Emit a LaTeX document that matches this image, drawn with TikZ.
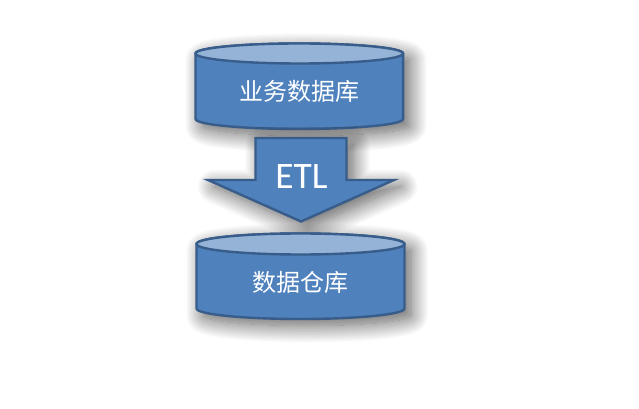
\documentclass[tikz,border=0pt]{standalone}
\usepackage{fontspec}
\setmainfont{Carlito}
\newfontfamily\cjk{Noto Sans CJK SC}
\usetikzlibrary{shadows.blur}
\definecolor{boxblue}{HTML}{4F81BD}
\definecolor{capblue}{HTML}{95B3D7}
\definecolor{edgeblue}{HTML}{385D8A}
\tikzset{
  softshadow/.style={blur shadow={shadow xshift=5pt, shadow yshift=-5pt, shadow blur radius=13pt, shadow blur steps=24, shadow opacity=65}},
  dbbody/.style={draw=edgeblue, line width=1.8pt, fill=boxblue, line join=round, softshadow},
  dbcap/.style={draw=edgeblue, line width=1.8pt, fill=capblue},
  etlarrow/.style={draw=edgeblue, line width=1.8pt, fill=boxblue, softshadow},
  dblabel/.style={text=white, font=\cjk\fontsize{18}{20}\selectfont},
  etllabel/.style={text=white, font=\fontsize{28}{30}\selectfont},
}
\begin{document}
\begin{tikzpicture}[x=0.75pt, y=-0.75pt]
      \useasboundingbox (0,0) rectangle (639,409);
      \draw[dbbody] (195.5,53.5)--(195.5,119) arc[start angle=180, end angle=0, x radius=103.8, y radius=10]--(403.1,53.5) arc[start angle=0, end angle=-180, x radius=103.8, y radius=10]--cycle;
      \draw[dbcap] (299.3,53.5) ellipse[x radius=103.8, y radius=10];
      \node[dblabel] (source) at (299.5,91) {业务数据库};
      \draw[etlarrow] (255.5,138)--(346.5,138)--(346.5,180)--(394,180)--(301,221.5)--(208,180)--(255.5,180)--cycle;
      \node[etllabel] (etl) at (301.5,177) {ETL};
      \draw[dbbody] (196.5,244)--(196.5,308.5) arc[start angle=180, end angle=0, x radius=104, y radius=10.5]--(404.5,244) arc[start angle=0, end angle=-180, x radius=104, y radius=10.5]--cycle;
      \draw[dbcap] (300.5,244) ellipse[x radius=104, y radius=10.5];
      \node[dblabel] (warehouse) at (300.5,282) {数据仓库};
\end{tikzpicture}
\end{document}
